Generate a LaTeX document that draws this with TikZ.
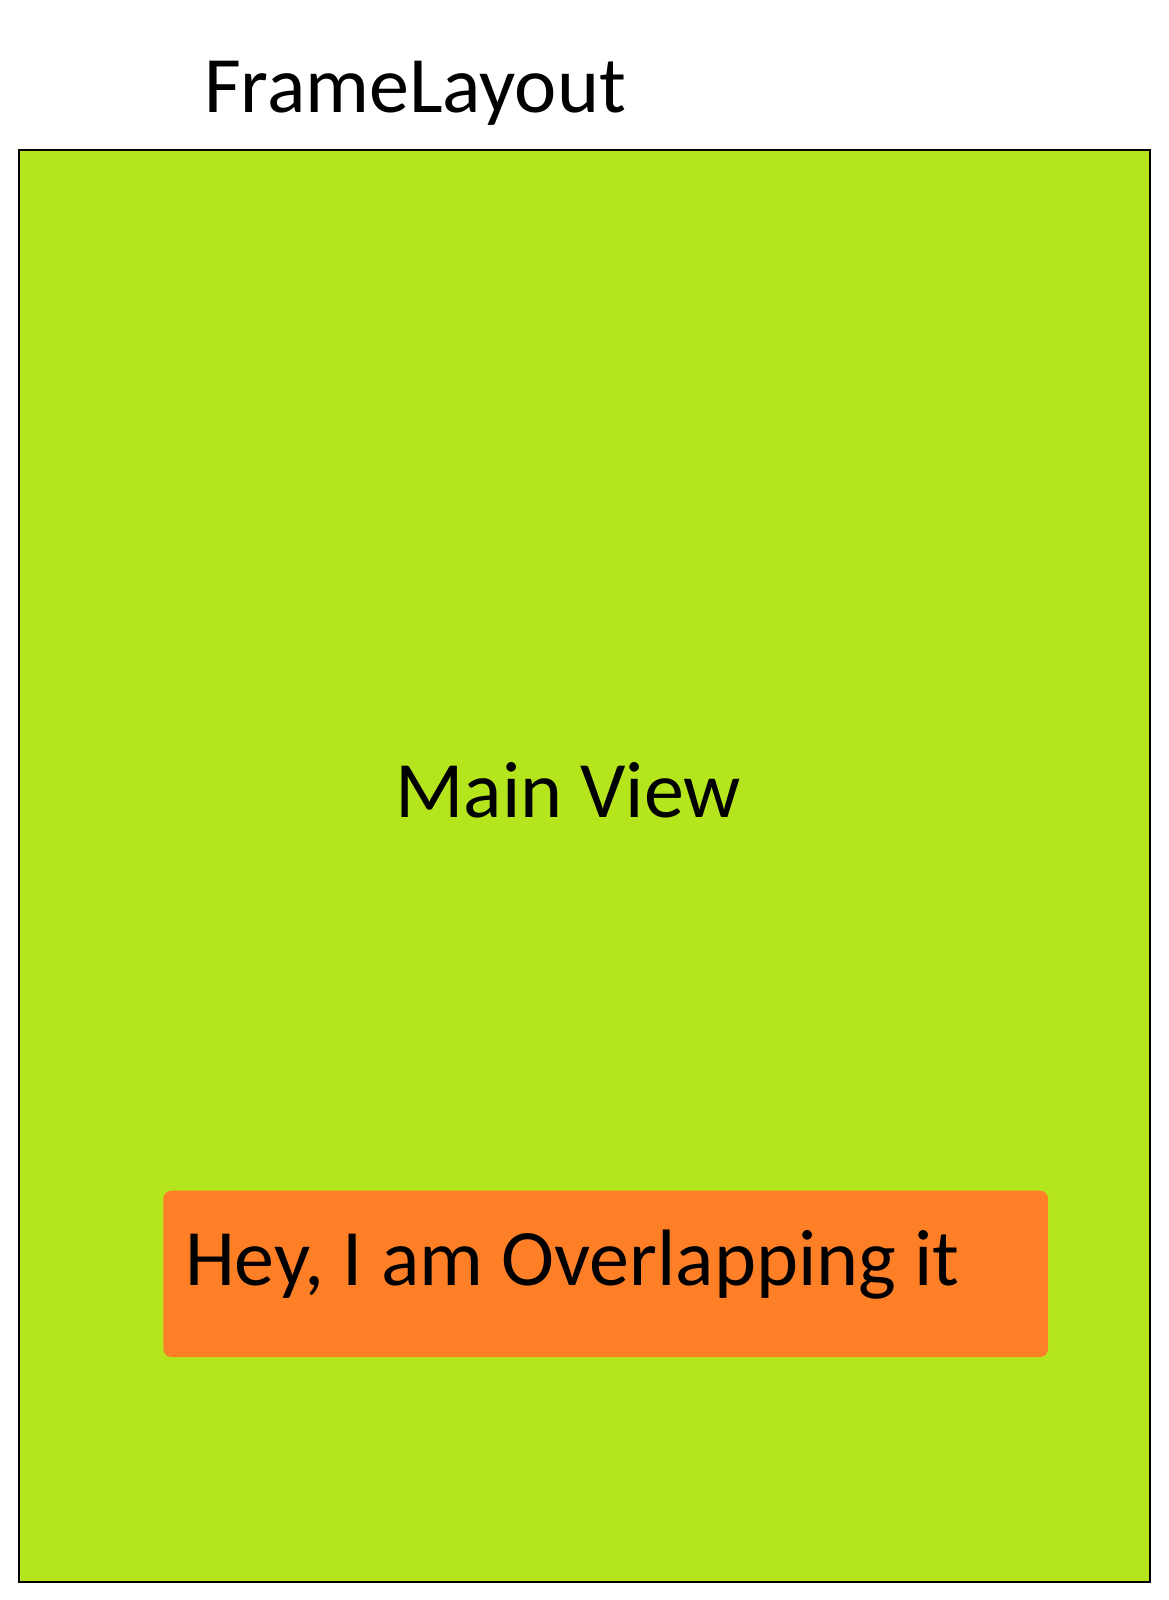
\documentclass[tikz,border=0pt]{standalone}
\usepackage{fontspec}
\setmainfont{Carlito}
\definecolor{limefill}{HTML}{B5E61D}
\definecolor{orangefill}{HTML}{FF7F27}
\begin{document}
\begin{tikzpicture}[x=1pt,y=-1pt,
  framebox/.style={draw=black, line width=2pt, fill=limefill, inner sep=0pt, outer sep=0pt, minimum width=1131pt, minimum height=1432pt},
  overlapbox/.style={fill=orangefill, rounded corners=8pt, inner sep=0pt, outer sep=0pt, minimum width=884.7pt, minimum height=166.3pt},
  label/.style={inner sep=0pt, outer sep=0pt, anchor=base west, font=\fontsize{80}{90}\selectfont, text=black}]
\useasboundingbox[fill=white] (0,0) rectangle (1168,1600);
\node[framebox] (frame) at (584.5,866) {};
\node[overlapbox] (overlap) at (605.65,1273.85) {};
\node[label] (title) at (204,112.7) {FrameLayout};
\node[label] (main) at (395.5,817.5) {Main View};
\node[label] (hey) at (185,1285) {Hey, I am Overlapping it};
\end{tikzpicture}
\end{document}
